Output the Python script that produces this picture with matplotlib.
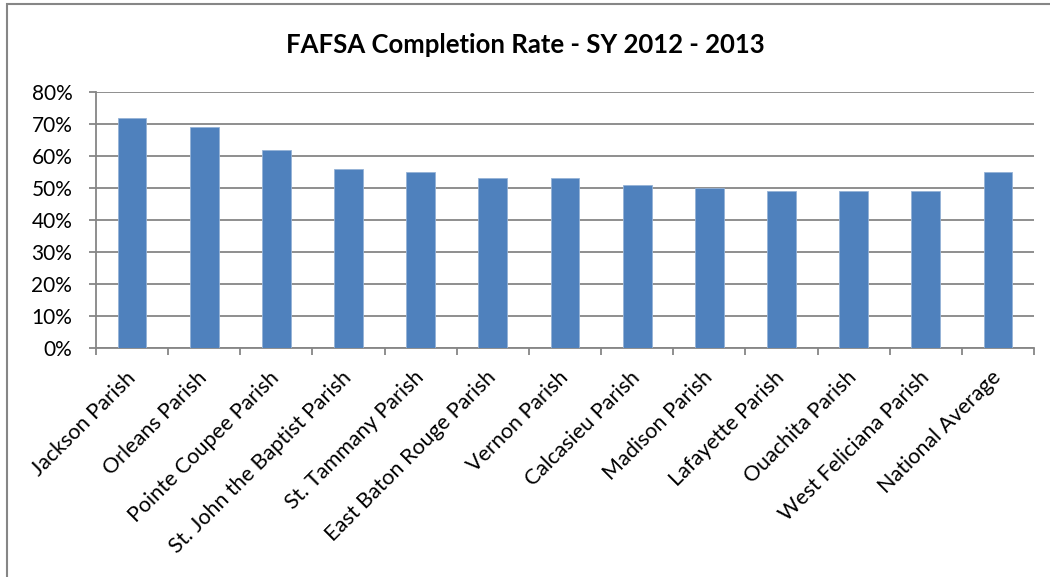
import matplotlib.pyplot as plt
from matplotlib.patches import Rectangle
from matplotlib.ticker import FixedLocator, PercentFormatter
from matplotlib.transforms import ScaledTranslation

parishes = ['Jackson Parish', 'Orleans Parish', 'Pointe Coupee Parish',
            'St. John the Baptist Parish', 'St. Tammany Parish',
            'East Baton Rouge Parish', 'Vernon Parish', 'Calcasieu Parish',
            'Madison Parish', 'Lafayette Parish', 'Ouachita Parish',
            'West Feliciana Parish', 'National Average']
rates = [72, 69, 62, 56, 55, 53, 53, 51, 50, 49, 49, 49, 55]
yticks = [0, 10, 20, 30, 40, 50, 60, 70, 80]

plt.rcParams['font.family'] = ['Lato', 'DejaVu Sans']
grey = '#868686'

fig = plt.figure(figsize=(10.5, 5.77), dpi=100)
ax = fig.add_axes([0.0914, 0.3969, 0.8934, 0.4437])

x = list(range(len(parishes)))
ax.bar(x, rates, width=0.4, color='#4F81BD', edgecolor='#95B3D7', linewidth=0.6, zorder=3)

ax.set_xlim(-0.5, len(parishes) - 0.5)
ax.set_ylim(0, 80)
ax.set_yticks(yticks)
ax.yaxis.set_major_formatter(PercentFormatter(decimals=0))
ax.yaxis.grid(True, color=grey, linewidth=1.3, zorder=0)

ax.set_xticks(x)
ax.set_xticklabels(parishes, rotation=45, ha='right', va='top', rotation_mode='anchor')
ax.tick_params(axis='x', which='major', length=0, pad=14, labelsize=15.5)
shift = ScaledTranslation(-7 / 100, 0, fig.dpi_scale_trans)
for lab in ax.get_xticklabels():
    lab.set_transform(lab.get_transform() + shift)
ax.xaxis.set_minor_locator(FixedLocator([i - 0.5 for i in range(len(parishes) + 1)]))
ax.tick_params(axis='x', which='minor', length=5, color=grey, width=1.3, direction='out')
ax.tick_params(axis='y', length=5, color=grey, width=1.3, labelsize=15, pad=12)

for s in ['top', 'right']:
    ax.spines[s].set_visible(False)
for s in ['left', 'bottom']:
    ax.spines[s].set_color(grey)
    ax.spines[s].set_linewidth(1.3)

fig.text(0.5, 0.922, 'FAFSA Completion Rate - SY 2012 - 2013', ha='center', va='center',
         fontsize=18.5, fontweight='bold')

fig.patches.append(Rectangle((0.007, -0.01), 1.5, 1.003, transform=fig.transFigure,
                             fill=False, edgecolor=grey, linewidth=1.5))

fig.savefig('out.png', dpi=100)
